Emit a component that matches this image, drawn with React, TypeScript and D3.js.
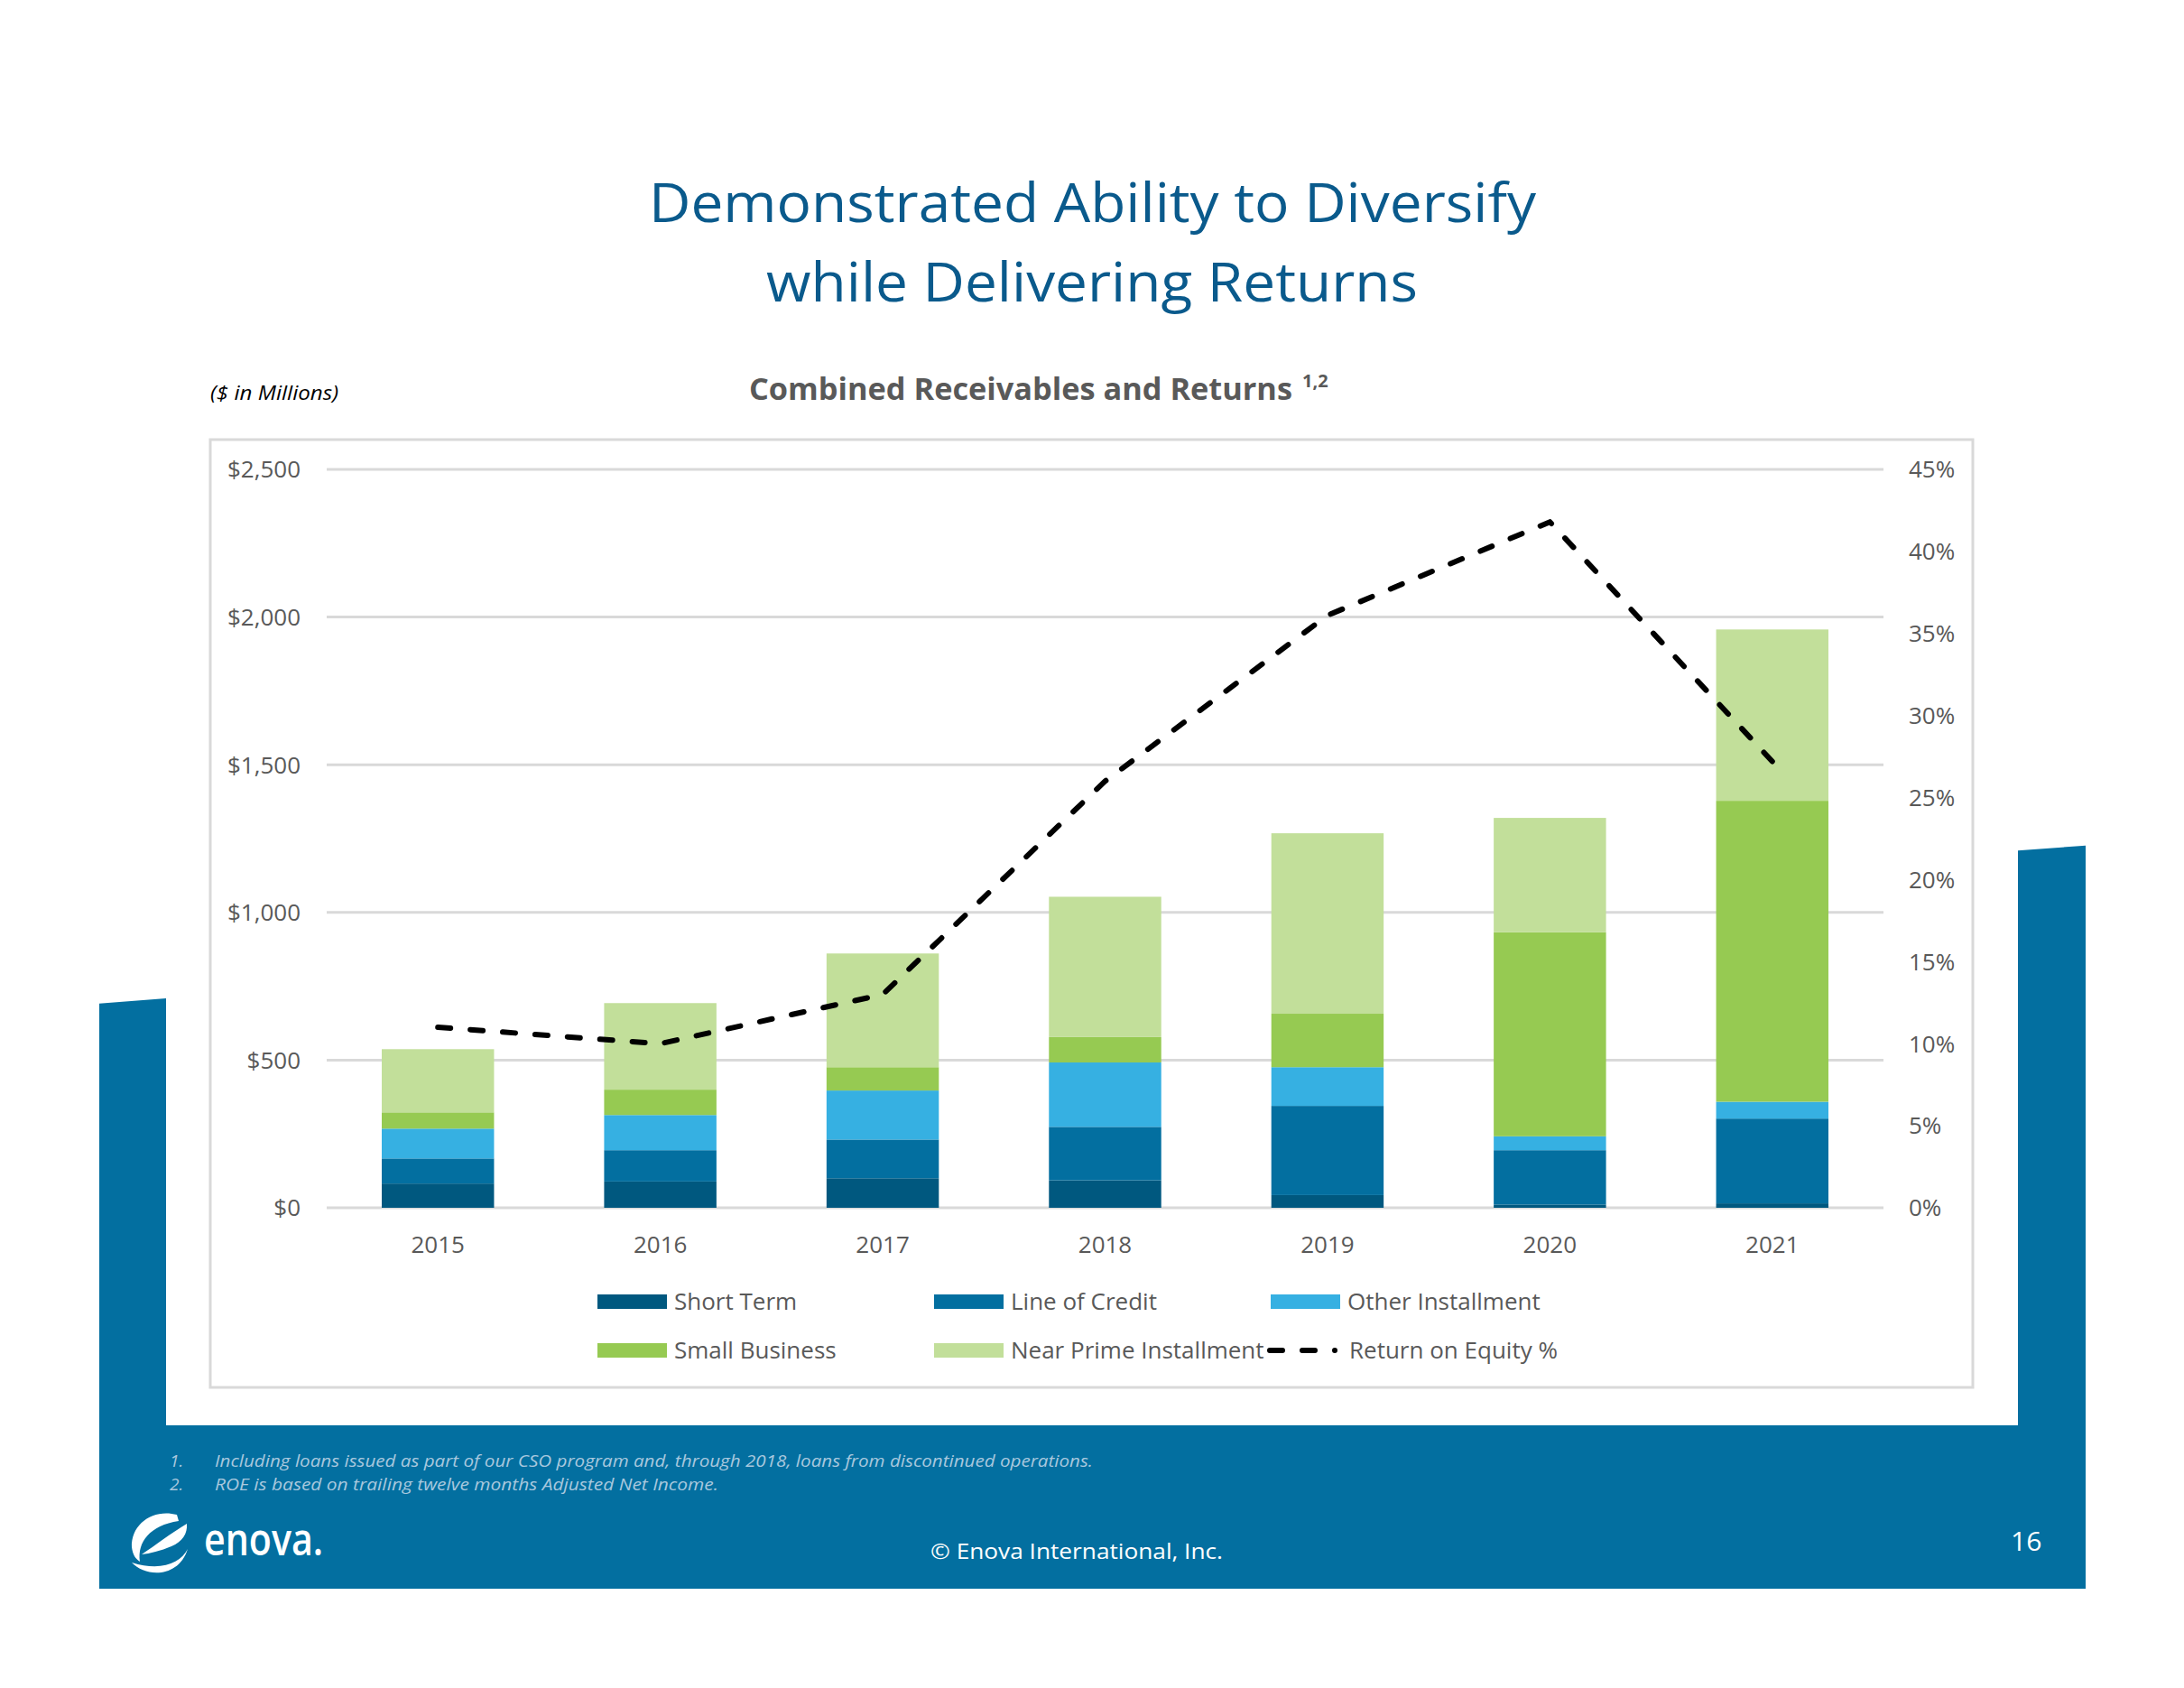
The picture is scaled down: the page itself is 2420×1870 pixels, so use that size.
import React from "react";
import * as d3 from "d3";

// Combined receivables by product ($ millions) and return on equity (%), 2015–2021
const years = ["2015", "2016", "2017", "2018", "2019", "2020", "2021"];
const shortTerm = [82, 89, 100, 93, 43, 11, 15];
const lineOfCredit = [85, 106, 131, 181, 302, 184, 287];
const otherInstallment = [101, 119, 166, 218, 131, 47, 57];
const smallBusiness = [55, 86, 79, 86, 181, 691, 1019];
const nearPrimeInstallment = [214, 293, 385, 475, 611, 387, 580];
const returnOnEquity = [11.0, 10.0, 13.0, 26.0, 36.1, 41.8, 27.2];

const leftTicks = [0, 500, 1000, 1500, 2000, 2500];
const rightTicks = [0, 5, 10, 15, 20, 25, 30, 35, 40, 45];

const seriesNames = ["Short Term", "Line of Credit", "Other Installment", "Small Business", "Near Prime Installment"];
const seriesKeys = ["st", "loc", "oi", "sb", "np"];
const seriesColors = ["#00587f", "#036fa0", "#36b0e2", "#96ca52", "#c2df9a"];

const FONT = "'Open Sans', 'Noto Sans', sans-serif";
const FRAME = "#036fa0";
const GRID = "#d9d9d9";
const AXIS_TEXT = "#595959";

export default function App() {
  const x = d3.scaleBand().domain(years).range([362, 2087]).paddingInner(0.495).paddingOuter(0.2475);
  const y = d3.scaleLinear().domain([0, 2500]).range([1338, 520]);
  const y2 = d3.scaleLinear().domain([0, 45]).range([1338, 520]);

  const rows = years.map((yr, i) => ({
    year: yr,
    st: shortTerm[i],
    loc: lineOfCredit[i],
    oi: otherInstallment[i],
    sb: smallBusiness[i],
    np: nearPrimeInstallment[i],
  }));
  const stacked = d3.stack().keys(seriesKeys)(rows as any);

  const roeLine = d3
    .line<number>()
    .x((_, i) => (x(years[i]) as number) + x.bandwidth() / 2)
    .y((d) => y2(d))(returnOnEquity) as string;

  const legendItems = [
    { label: seriesNames[0], color: seriesColors[0], sx: 662, ty: 1442 },
    { label: seriesNames[1], color: seriesColors[1], sx: 1035, ty: 1442 },
    { label: seriesNames[2], color: seriesColors[2], sx: 1408, ty: 1442 },
    { label: seriesNames[3], color: seriesColors[3], sx: 662, ty: 1496 },
    { label: seriesNames[4], color: seriesColors[4], sx: 1035, ty: 1496 },
  ];

  return (
    <svg
      width={2420}
      height={1870}
      style={{ position: "absolute", left: 0, top: 0, background: "#fff" }}
      fontFamily={FONT}
    >
      <rect x={0} y={0} width={2420} height={1870} fill="#ffffff" />

      {/* blue frame */}
      <polygon points="110,1111.7 184,1106 184,1760 110,1760" fill={FRAME} />
      <polygon points="2236,942.3 2311,936.7 2311,1760 2236,1760" fill={FRAME} />
      <rect x={110} y={1579} width={2201} height={181} fill={FRAME} />

      {/* title */}
      <text x={1210.5} y={246} textAnchor="middle" fontSize={61} fill="#0a5a8c" textLength={983} lengthAdjust="spacingAndGlyphs">
        Demonstrated Ability to Diversify
      </text>
      <text x={1210} y={334} textAnchor="middle" fontSize={61} fill="#0a5a8c" textLength={722} lengthAdjust="spacingAndGlyphs">
        while Delivering Returns
      </text>

      <text x={233} y={443} fontSize={21} fontStyle="italic" fill="#000" textLength={142} lengthAdjust="spacingAndGlyphs">
        ($ in Millions)
      </text>
      <text x={830} y={443} fontSize={34} fontWeight={700} fill={AXIS_TEXT} textLength={602} lengthAdjust="spacingAndGlyphs">
        Combined Receivables and Returns
      </text>
      <text x={1443} y={429} fontSize={20} fontWeight={700} fill={AXIS_TEXT}>
        1,2
      </text>

      {/* chart box */}
      <rect x={233} y={487} width={1953} height={1050} fill="#fff" stroke={GRID} strokeWidth={3} />

      {/* gridlines */}
      {leftTicks.map((t) => (
        <line key={"g" + t} x1={362} x2={2087} y1={y(t)} y2={y(t)} stroke={GRID} strokeWidth={3} />
      ))}

      {/* left axis */}
      {leftTicks.map((t) => (
        <text key={"l" + t} x={333} y={y(t)} dy="0.36em" textAnchor="end" fontSize={26} fill={AXIS_TEXT}>
          {"$" + d3.format(",")(t)}
        </text>
      ))}

      {/* right axis */}
      {rightTicks.map((t) => (
        <text key={"r" + t} x={2115} y={y2(t)} dy="0.36em" fontSize={26} fill={AXIS_TEXT}>
          {t + "%"}
        </text>
      ))}

      {/* stacked bars */}
      {stacked.map((layer, li) => (
        <g key={seriesKeys[li]} fill={seriesColors[li]}>
          {layer.map((d: any, i: number) => (
            <rect
              key={years[i]}
              x={x(years[i])}
              y={y(d[1])}
              width={x.bandwidth()}
              height={y(d[0]) - y(d[1])}
            />
          ))}
        </g>
      ))}

      {/* x axis labels */}
      {years.map((yr) => (
        <text key={"x" + yr} x={(x(yr) as number) + x.bandwidth() / 2} y={1379} dy="0.36em" textAnchor="middle" fontSize={26} fill={AXIS_TEXT}>
          {yr}
        </text>
      ))}

      {/* return on equity line */}
      <path d={roeLine} fill="none" stroke="#000" strokeWidth={6} strokeDasharray="14 22" strokeLinecap="round" strokeLinejoin="round" />

      {/* legend */}
      {legendItems.map((it) => (
        <g key={it.label}>
          <rect x={it.sx} y={it.ty - 8} width={77} height={16} fill={it.color} />
          <text x={it.sx + 85} y={it.ty} dy="0.36em" fontSize={26} fill={AXIS_TEXT}>
            {it.label}
          </text>
        </g>
      ))}
      <line x1={1407} x2={1487} y1={1496} y2={1496} stroke="#000" strokeWidth={6} strokeDasharray="14 22 14 22 0 40" strokeLinecap="round" />
      <text x={1495} y={1496} dy="0.36em" fontSize={26} fill={AXIS_TEXT}>
        Return on Equity %
      </text>

      {/* footnotes */}
      <g fill="#a9c8de" fontSize={19} fontStyle="italic">
        <text x={188} y={1618} dy="0.36em">1.</text>
        <text x={238} y={1618} dy="0.36em" textLength={973} lengthAdjust="spacingAndGlyphs">
          Including loans issued as part of our CSO program and, through 2018, loans from discontinued operations.
        </text>
        <text x={188} y={1644} dy="0.36em">2.</text>
        <text x={238} y={1644} dy="0.36em" textLength={558} lengthAdjust="spacingAndGlyphs">
          ROE is based on trailing twelve months Adjusted Net Income.
        </text>
      </g>

      {/* logo */}
      <g fill="#fff">
        <path d="M196 1678 C170 1671 145 1688 146 1714 C147 1722 150 1727 155 1730 C152 1708 166 1690 198 1685 Z" />
        <path d="M157 1722 C172 1712 190 1698 207 1688 C208 1699 202 1708 190 1713 C178 1718 166 1721 157 1722 Z" />
        <path d="M146 1731 C162 1748 198 1748 208 1716 C200 1732 178 1741 146 1731 Z" />
      </g>
      <text x={226} y={1723} fontSize={48} fontWeight={600} fill="#fff" textLength={132} lengthAdjust="spacingAndGlyphs">
        enova.
      </text>

      <text x={1193} y={1718} dy="0.36em" textAnchor="middle" fontSize={24} fill="#fff" textLength={324} lengthAdjust="spacingAndGlyphs">
        © Enova International, Inc.
      </text>
      <text x={2228} y={1707} dy="0.36em" fontSize={30} fill="#fff">
        16
      </text>
    </svg>
  );
}
